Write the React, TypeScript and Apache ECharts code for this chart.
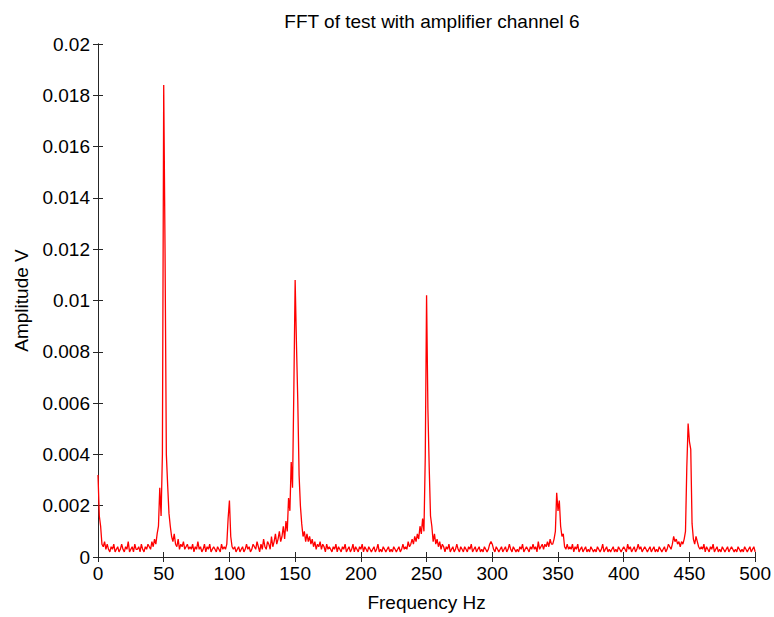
import React, { useEffect, useRef } from "react";
import * as echarts from "echarts";

// Frequency axis (Hz) — one bin per Hz from 0 to 500
const freqStartHz = 0;
const freqStepHz = 1;

// Amplitude in units of 1e-4 V, one value per Hz bin (0..500)
const amplitudeE4: number[] = [
  // 0-9
  32, 16, 12, 5, 4, 6, 3, 5, 3, 2,
  // 10-19
  4, 3, 5, 2, 3, 4, 2, 3, 5, 3,
  // 20-29
  2, 4, 3, 6, 2, 3, 4, 2, 5, 3,
  // 30-39
  3, 4, 2, 5, 3, 2, 4, 3, 5, 4,
  // 40-49
  3, 6, 4, 7, 5, 9, 12, 27, 16, 40,
  // 50-59
  184, 120, 40, 28, 17, 12, 8, 6, 9, 5,
  // 60-69
  4, 7, 3, 5, 4, 6, 3, 4, 5, 3,
  // 70-79
  4, 3, 5, 2, 4, 3, 6, 3, 4, 2,
  // 80-89
  3, 5, 2, 4, 3, 5, 2, 3, 4, 3,
  // 90-99
  2, 4, 3, 2, 5, 3, 4, 3, 5, 15,
  // 100-109
  22, 8, 4, 3, 4, 2, 3, 4, 2, 3,
  // 110-119
  4, 2, 3, 5, 3, 4, 2, 3, 5, 4,
  // 120-129
  3, 6, 4, 2, 5, 3, 7, 4, 3, 6,
  // 130-139
  5, 3, 8, 4, 6, 9, 5, 7, 10, 6,
  // 140-149
  8, 12, 7, 14, 10, 23, 18, 37, 27, 65,
  // 150-159
  108, 83, 61, 32, 20, 13, 8, 10, 6, 9,
  // 160-169
  6, 8, 5, 7, 4, 6, 3, 5, 4, 6,
  // 170-179
  3, 5, 4, 2, 5, 3, 4, 3, 2, 4,
  // 180-189
  3, 5, 2, 4, 3, 2, 4, 3, 5, 2,
  // 190-199
  3, 4, 2, 3, 5, 2, 4, 3, 2, 4,
  // 200-209
  3, 5, 2, 4, 3, 2, 4, 3, 2, 3,
  // 210-219
  4, 2, 3, 5, 2, 3, 2, 4, 3, 2,
  // 220-229
  3, 4, 2, 3, 2, 4, 3, 2, 3, 4,
  // 230-239
  2, 3, 5, 3, 4, 3, 6, 4, 5, 7,
  // 240-249
  5, 8, 6, 9, 7, 12, 9, 15, 10, 39,
  // 250-259
  102, 58, 35, 16, 12, 6, 9, 5, 7, 4,
  // 260-269
  6, 3, 5, 4, 2, 4, 3, 5, 2, 3,
  // 270-279
  4, 2, 3, 5, 3, 2, 4, 3, 2, 4,
  // 280-289
  3, 2, 4, 3, 5, 2, 3, 4, 2, 3,
  // 290-299
  4, 2, 3, 2, 4, 3, 2, 3, 5, 6,
  // 300-309
  5, 3, 2, 4, 3, 2, 3, 4, 2, 3,
  // 310-319
  4, 2, 3, 5, 3, 2, 4, 3, 2, 3,
  // 320-329
  2, 4, 3, 5, 2, 3, 4, 3, 2, 4,
  // 330-339
  3, 5, 3, 4, 2, 6, 3, 4, 5, 3,
  // 340-349
  5, 4, 6, 4, 7, 5, 5, 7, 10, 25,
  // 350-359
  18, 22, 12, 8, 9, 4, 3, 5, 3, 4,
  // 360-369
  3, 5, 2, 4, 3, 5, 2, 3, 4, 2,
  // 370-379
  3, 4, 2, 3, 2, 4, 3, 2, 3, 2,
  // 380-389
  4, 3, 2, 3, 5, 2, 3, 4, 2, 3,
  // 390-399
  2, 3, 4, 2, 3, 2, 4, 3, 2, 3,
  // 400-409
  4, 3, 2, 5, 3, 4, 2, 3, 4, 2,
  // 410-419
  3, 5, 3, 4, 2, 3, 4, 3, 2, 3,
  // 420-429
  4, 2, 3, 4, 2, 3, 2, 4, 3, 2,
  // 430-439
  3, 4, 2, 3, 5, 4, 3, 5, 8, 6,
  // 440-449
  7, 5, 6, 4, 6, 5, 7, 10, 35, 52,
  // 450-459
  45, 42, 13, 7, 5, 8, 6, 4, 3, 4,
  // 460-469
  3, 5, 2, 4, 3, 2, 4, 3, 5, 2,
  // 470-479
  3, 4, 2, 3, 2, 4, 3, 2, 3, 4,
  // 480-489
  2, 3, 4, 3, 2, 3, 2, 4, 3, 2,
  // 490-499
  3, 2, 4, 3, 2, 3, 4, 2, 3, 4,
  // 500
  2,
];
const amplitudeUnit = 1e-4;

const xTicks = [0, 50, 100, 150, 200, 250, 300, 350, 400, 450, 500];
const yTicks = [0, 0.002, 0.004, 0.006, 0.008, 0.01, 0.012, 0.014, 0.016, 0.018, 0.02];

const titleText = "FFT of test with amplifier channel 6";
const xName = "Frequency Hz";
const yName = "Amplitude V";

export default function App() {
  const ref = useRef<HTMLDivElement>(null);
  useEffect(() => {
    if (!ref.current) return;
    const chart = echarts.init(ref.current, undefined, { renderer: "svg" });
    const data = amplitudeE4.map((v, i) => [
      freqStartHz + i * freqStepHz,
      v * amplitudeUnit,
    ]);
    const font = "'Liberation Sans', Arial, sans-serif";
    const axisLine = { show: true, lineStyle: { color: "#262626", width: 1 } };
    const tickStyle = { show: true, inside: true, length: 5, lineStyle: { color: "#262626", width: 1 } };
    const fmtY = (v: number) => String(Number(v.toFixed(4)));
    chart.setOption({
      animation: false,
      backgroundColor: "#ffffff",
      textStyle: { fontFamily: font },
      title: {
        text: titleText,
        left: 427,
        textAlign: "center",
        top: 7,
        textStyle: { fontFamily: font, fontSize: 19, fontWeight: "normal", color: "#000" },
      },
      grid: { left: 98, right: 18, top: 44, bottom: 59, containLabel: false },
      xAxis: [
        {
          type: "value",
          min: xTicks[0],
          max: xTicks[xTicks.length - 1],
          interval: 50,
          position: "bottom",
          name: xName,
          nameLocation: "middle",
          nameGap: 36,
          nameTextStyle: { fontFamily: font, fontSize: 19, color: "#000" },
          axisLine,
          axisTick: tickStyle,
          axisLabel: { fontFamily: font, fontSize: 19, color: "#000", margin: 7 },
          splitLine: { show: false },
        },
        {
          type: "value",
          min: xTicks[0],
          max: xTicks[xTicks.length - 1],
          interval: 50,
          position: "top",
          axisLine,
          axisTick: tickStyle,
          axisLabel: { show: false },
          splitLine: { show: false },
        },
      ],
      yAxis: [
        {
          type: "value",
          min: yTicks[0],
          max: yTicks[yTicks.length - 1],
          interval: 0.002,
          position: "left",
          name: yName,
          nameLocation: "middle",
          nameGap: 67,
          nameTextStyle: { fontFamily: font, fontSize: 19, color: "#000" },
          axisLine,
          axisTick: tickStyle,
          axisLabel: { fontFamily: font, fontSize: 19, color: "#000", margin: 8, formatter: fmtY },
          splitLine: { show: false },
        },
        {
          type: "value",
          min: yTicks[0],
          max: yTicks[yTicks.length - 1],
          interval: 0.002,
          position: "right",
          axisLine,
          axisTick: tickStyle,
          axisLabel: { show: false },
          splitLine: { show: false },
        },
      ],
      series: [
        {
          type: "line",
          data,
          xAxisIndex: 0,
          yAxisIndex: 0,
          showSymbol: false,
          symbol: "none",
          lineStyle: { color: "#ff0000", width: 1.3 },
          itemStyle: { color: "#ff0000" },
          z: 1,
        },
      ],
    });
    return () => chart.dispose();
  }, []);
  return (
    <div
      ref={ref}
      style={{ position: "fixed", left: 0, top: 0, width: 774, height: 617 }}
    />
  );
}
